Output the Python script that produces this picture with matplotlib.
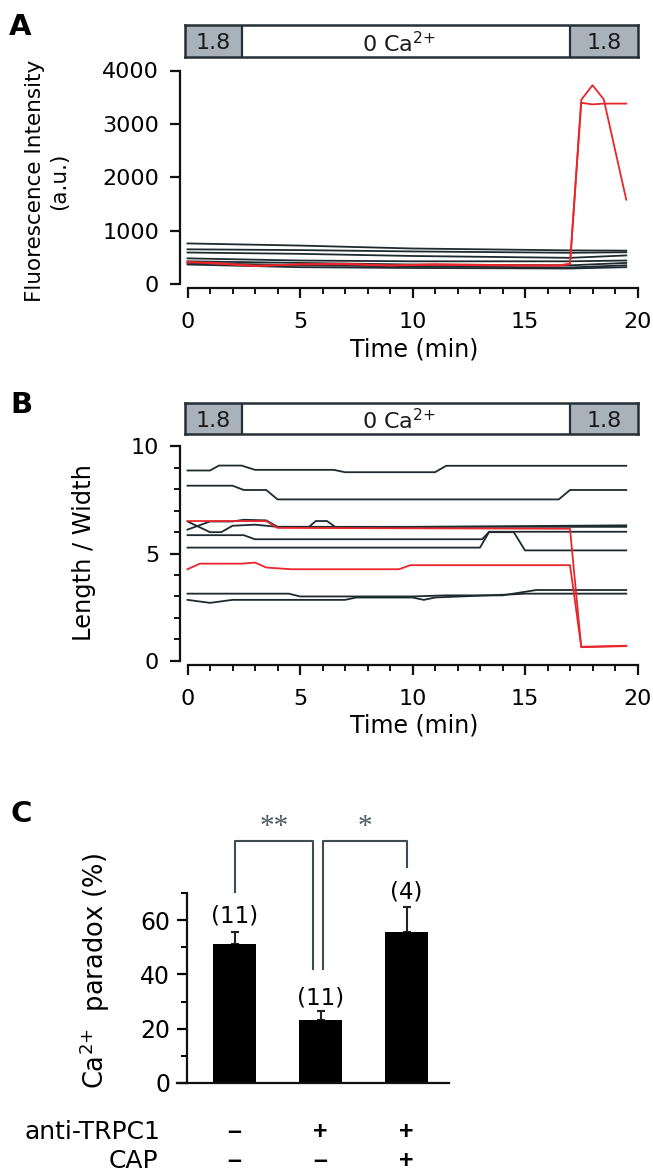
import matplotlib
matplotlib.use("Agg")
import matplotlib.pyplot as plt
from matplotlib.ticker import MultipleLocator
from matplotlib.transforms import blended_transform_factory

plt.rcParams["font.family"] = ["DejaVu Sans"]
plt.rcParams["mathtext.fontset"] = "dejavusans"

W, H = 653, 1174

# perfusion protocol (min)
sol_switch = [2.4, 17.0]
sol_labels = ["1.8", "0 Ca$^{2{+}}$", "1.8"]

# A: fluorescence traces (a.u.)
fluo_black_t = [0, 5, 10, 17, 19.5]
fluo_black = [
    [760, 720, 665, 630, 625],
    [650, 635, 610, 585, 595],
    [590, 565, 525, 490, 535],
    [480, 440, 425, 425, 440],
    [425, 395, 365, 350, 395],
    [395, 350, 330, 310, 350],
    [365, 315, 300, 290, 315],
]
fluo_red_t = [0, 1, 3, 5, 7, 9, 11, 13, 15, 16.5, 17, 17.5, 18, 18.5, 19.5]
fluo_red = [
    [415, 390, 335, 370, 380, 350, 370, 360, 350, 345, 370, 3450, 3725, 3460, 1580],
    [405, 400, 345, 365, 370, 345, 360, 350, 345, 350, 380, 3395, 3365, 3380, 3380],
]

# B: length / width traces
lw_black = [
    ([0, 1.0, 1.4, 2.4, 3.0, 6.5, 7.0, 11.0, 11.5, 19.5],
     [8.88, 8.88, 9.11, 9.11, 8.91, 8.91, 8.8, 8.8, 9.1, 9.1]),
    ([0, 2.0, 2.5, 3.5, 4.0, 16.5, 17.0, 19.5],
     [8.17, 8.17, 7.97, 7.97, 7.53, 7.53, 7.97, 7.97]),
    ([0, 1.0, 1.5, 2.0, 3.0, 4.0, 19.5],
     [6.5, 6.0, 6.0, 6.3, 6.35, 6.25, 6.25]),
    ([0, 1.0, 2.0, 2.5, 3.5, 4.0, 5.4, 5.7, 6.2, 6.6, 19.5],
     [6.12, 6.5, 6.5, 6.58, 6.55, 6.25, 6.25, 6.52, 6.52, 6.22, 6.32]),
    ([0, 2.5, 3.0, 13.1, 13.4, 19.5],
     [5.86, 5.86, 5.67, 5.67, 6.02, 6.02]),
    ([0, 13.0, 13.4, 14.5, 15.0, 19.5],
     [5.28, 5.28, 6.0, 6.0, 5.15, 5.15]),
    ([0, 4.5, 5.0, 10.0, 11.5, 14.0, 15.5, 19.5],
     [3.13, 3.13, 3.0, 3.0, 3.05, 3.05, 3.3, 3.3]),
    ([0, 1.0, 2.0, 7.0, 7.5, 10.0, 10.5, 11.0, 14.5, 15.0, 19.5],
     [2.84, 2.7, 2.84, 2.84, 2.95, 2.95, 2.84, 2.95, 3.1, 3.13, 3.13]),
]
lw_red = [
    ([0, 3.5, 4.0, 17.0, 17.5, 19.5],
     [6.52, 6.52, 6.2, 6.16, 0.63, 0.68]),
    ([0, 0.55, 2.4, 3.0, 3.5, 4.6, 9.4, 9.9, 17.0, 17.5, 19.5],
     [4.27, 4.53, 4.53, 4.58, 4.35, 4.27, 4.27, 4.46, 4.46, 0.65, 0.7]),
]

# C: Ca2+ paradox (%)
groups = ["ctrl", "anti-TRPC1", "anti-TRPC1 + CAP"]
paradox = [51.1, 23.2, 55.8]
paradox_err = [4.7, 3.3, 9.0]
n_cells = ["(11)", "(11)", "(4)"]
anti_trpc1 = ["\u2013", "+", "+"]
cap = ["\u2013", "\u2013", "+"]
sig_pairs = [(0, 1, "**"), (1, 2, "*")]

BLACK = "#1d2a30"
RED = "#e8262b"
GREY = "#a9b2ba"
EDGE = "#253036"


def rect(left, top, right, bottom):
    return [left / W, 1 - bottom / H, (right - left) / W, (bottom - top) / H]


def style_axes(ax, left_out, bottom_out, size):
    for s in ["top", "right"]:
        ax.spines[s].set_visible(False)
    for s in ["left", "bottom"]:
        ax.spines[s].set_linewidth(1.6)
        ax.spines[s].set_color("#111111")
    ax.spines["left"].set_position(("outward", left_out))
    ax.spines["bottom"].set_position(("outward", bottom_out))
    ax.tick_params(which="major", length=7, width=1.6, labelsize=size, color="#111111")
    ax.tick_params(which="minor", length=4, width=1.4, color="#111111")
    ax.tick_params(axis="y", pad=8)
    ax.tick_params(axis="x", which="major", pad=10)


def solution_bar(fig, top, bottom):
    sb = fig.add_axes(rect(185, top, 638, bottom))
    x0 = (185 - 187.5) / 22.5
    x1 = (638 - 187.5) / 22.5
    sb.set_xlim(x0, x1)
    sb.set_ylim(0, 1)
    sb.axvspan(x0, sol_switch[0], color=GREY, lw=0)
    sb.axvspan(sol_switch[1], x1, color=GREY, lw=0)
    for xs in sol_switch:
        sb.axvline(xs, color=EDGE, lw=1.6)
    for s in sb.spines.values():
        s.set_linewidth(1.8)
        s.set_color(EDGE)
    sb.set_xticks([])
    sb.set_yticks([])
    centers = [(x0 + sol_switch[0]) / 2, (sol_switch[0] + sol_switch[1]) / 2 - 0.3,
               (sol_switch[1] + x1) / 2]
    for xc, lab in zip(centers, sol_labels):
        sb.text(xc, 0.42, lab, ha="center", va="center", fontsize=16, color="#1a1a1a")


def time_axis(ax):
    ax.set_xlim(0, 20)
    ax.xaxis.set_major_locator(MultipleLocator(5))
    ax.xaxis.set_minor_locator(MultipleLocator(1))
    ax.spines["bottom"].set_bounds(0, 20)


fig = plt.figure(figsize=(W / 100, H / 100), dpi=100)

# ---------- A ----------
axA = fig.add_axes(rect(187.5, 70.5, 637.5, 284))
for vals in fluo_black:
    axA.plot(fluo_black_t, vals, color=BLACK, lw=1.3, clip_on=False)
for vals in fluo_red:
    axA.plot(fluo_red_t, vals, color=RED, lw=1.3, clip_on=False)
time_axis(axA)
axA.set_ylim(0, 4000)
axA.yaxis.set_major_locator(MultipleLocator(1000))
style_axes(axA, 5.4, 3.2, 16)
solution_bar(fig, 25, 56.5)
fig.text(414 / W, 1 - 350 / H, "Time (min)", ha="center", va="center", fontsize=17)
fig.text(47 / W, 1 - 181 / H, "Fluorescence Intensity\n(a.u.)", rotation=90,
         ha="center", va="center", multialignment="center", fontsize=15.5,
         linespacing=1.3)
fig.text(9 / W, 1 - 35 / H, "A", fontsize=21, fontweight="bold", va="baseline")

# ---------- B ----------
axB = fig.add_axes(rect(187.5, 446.5, 637.5, 660.7))
for t, v in lw_black:
    axB.plot(t, v, color=BLACK, lw=1.3, clip_on=False)
for t, v in lw_red:
    axB.plot(t, v, color=RED, lw=1.3, clip_on=False)
time_axis(axB)
axB.set_ylim(0, 10)
axB.yaxis.set_major_locator(MultipleLocator(5))
axB.yaxis.set_minor_locator(MultipleLocator(1))
style_axes(axB, 5.4, 3.2, 16)
solution_bar(fig, 403, 433.5)
fig.text(414 / W, 1 - 725 / H, "Time (min)", ha="center", va="center", fontsize=17)
fig.text(84 / W, 1 - 553 / H, "Length / Width", rotation=90,
         ha="center", va="center", fontsize=17.4)
fig.text(10 / W, 1 - 413 / H, "B", fontsize=21, fontweight="bold", va="baseline")

# ---------- C ----------
axC = fig.add_axes(rect(177, 893, 449, 1083))
xpos = list(range(len(groups)))
axC.bar(xpos, paradox, width=0.5, color="black", zorder=2)
axC.errorbar(xpos, paradox, yerr=[[0] * len(paradox), paradox_err], fmt="none",
             ecolor="#222222", elinewidth=1.5, capsize=3, capthick=1.5, zorder=1)
axC.set_xlim((177 - 234.5) / 86, (449 - 234.5) / 86)
axC.set_ylim(0, 70)
for s in ["top", "right"]:
    axC.spines[s].set_visible(False)
for s in ["left", "bottom"]:
    axC.spines[s].set_linewidth(1.6)
    axC.spines[s].set_color("#111111")
axC.spines["left"].set_position(("data", (187 - 234.5) / 86))
axC.set_xticks([])
axC.yaxis.set_major_locator(MultipleLocator(20))
axC.yaxis.set_minor_locator(MultipleLocator(10))
axC.tick_params(axis="y", which="major", length=7, width=1.6, labelsize=17, pad=5)
axC.tick_params(axis="y", which="minor", length=4, width=1.4)

label_y = [61.6, 31.4, 70.4]
for x, lab, ly in zip(xpos, n_cells, label_y):
    axC.text(x, ly, lab, ha="center", va="center", fontsize=16.5, clip_on=False)

leg_bottom = [70.3, 41.9, 41.9, 79.6]
leg_x = [(0, (313 - 234.5) / 86), ((323 - 234.5) / 86, 2)]
bracket_y = 89
for (i, j, star), (xa, xb), (ya, yb) in zip(sig_pairs, leg_x,
                                           [leg_bottom[0:2], leg_bottom[2:4]]):
    axC.plot([xa, xa, xb, xb], [ya, bracket_y, bracket_y, yb], color="#3e4d53",
             lw=1.5, clip_on=False)
    axC.text((xa + xb) / 2, bracket_y + 5.5, star, ha="center", va="center",
             fontsize=21, color="#4a5a60", family="Liberation Serif")

trans = blended_transform_factory(axC.transData, fig.transFigure)
fig.text(160 / W, 1 - 1132 / H, "anti-TRPC1", ha="right", va="center", fontsize=18)
fig.text(158 / W, 1 - 1161 / H, "CAP", ha="right", va="center", fontsize=18)
for x, a, c in zip(xpos, anti_trpc1, cap):
    axC.text(x, 1 - 1132 / H, a, transform=trans, ha="center", va="center",
             fontsize=18, fontweight="bold", family="Liberation Sans")
    axC.text(x, 1 - 1161 / H, c, transform=trans, ha="center", va="center",
             fontsize=18, fontweight="bold", family="Liberation Sans")

fig.text(95 / W, 1 - 971 / H, "Ca$^{2{+}}$  paradox (%)", rotation=90,
         ha="center", va="center", fontsize=18.5)
fig.text(10 / W, 1 - 822 / H, "C", fontsize=21, fontweight="bold", va="baseline")

fig.savefig("out.png", dpi=100)
